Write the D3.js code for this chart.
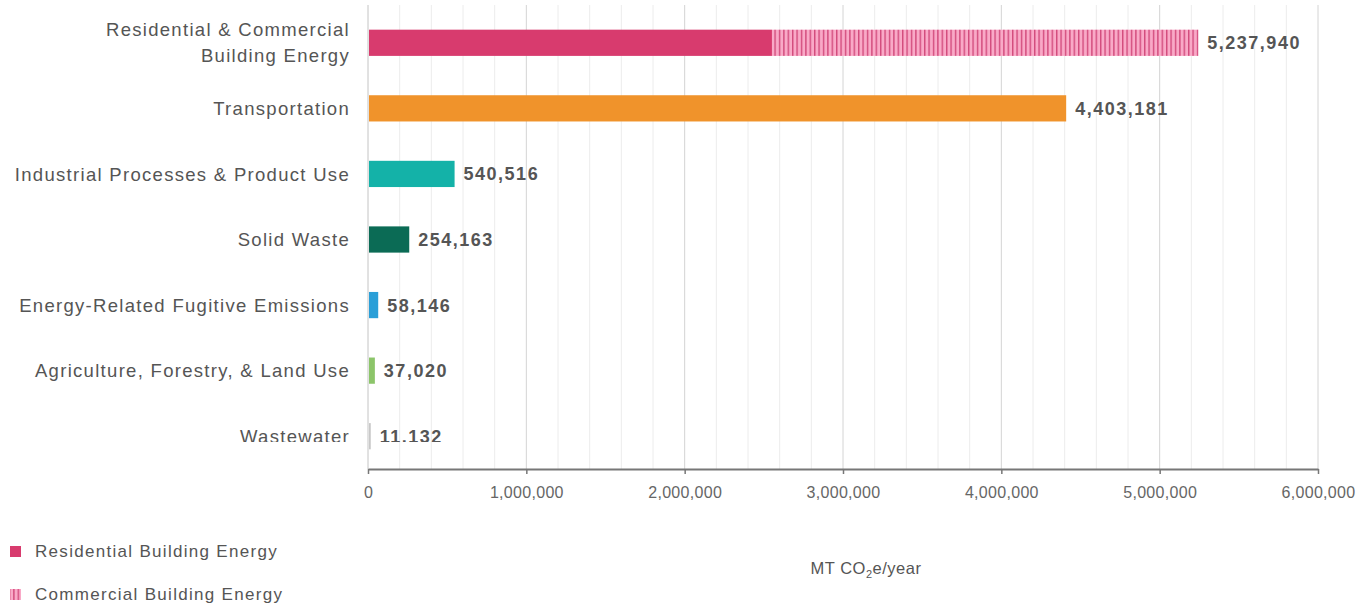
<!DOCTYPE html>
<html>
<head>
<meta charset="utf-8">
<script src="https://cdn.jsdelivr.net/npm/d3@7"></script>
<style>
  body { margin: 0; background: #fff; }
  svg { font-family: "Liberation Sans", Arial, sans-serif; }
</style>
</head>
<body>
<div id="chart"></div>
<script>
// sector totals, MT CO2e/year
const categories = [
  "Residential & Commercial Building Energy",
  "Transportation",
  "Industrial Processes & Product Use",
  "Solid Waste",
  "Energy-Related Fugitive Emissions",
  "Agriculture, Forestry, & Land Use",
  "Wastewater"
];
const totals = [5237940, 4403181, 540516, 254163, 58146, 37020, 11132];
const barColors = ["#d83b6e", "#f0932b", "#14b2a8", "#0b6b55", "#2a9fd8", "#8cc56a", "#c8c8c8"];

// split of the building energy bar
const residential = 2545000;
const commercial = totals[0] - residential;

const xTicks = [0, 1000000, 2000000, 3000000, 4000000, 5000000, 6000000];
const legendLabels = ["Residential Building Energy", "Commercial Building Energy"];

const width = 1367, height = 607;
const margin = { top: 5, right: 49, bottom: 138, left: 368 };

const svg = d3.select("#chart").append("svg")
  .attr("width", width)
  .attr("height", height);

const defs = svg.append("defs");
const stripes = defs.append("pattern")
  .attr("id", "stripes")
  .attr("patternUnits", "userSpaceOnUse")
  .attr("width", 4.4)
  .attr("height", 10);
stripes.append("rect").attr("width", 4.4).attr("height", 10).attr("fill", "#f9a9c7");
stripes.append("rect").attr("width", 1.4).attr("height", 10).attr("fill", "#d24a7c");

defs.append("clipPath").attr("id", "clipRows")
  .append("rect").attr("x", 0).attr("y", 0).attr("width", width).attr("height", 442);

const x = d3.scaleLinear()
  .domain([0, 6000000])
  .range([margin.left, width - margin.right]);

const y = d3.scaleBand()
  .domain(categories)
  .range([10, height - margin.bottom])
  .paddingInner(0.6)
  .paddingOuter(0.3);

const plotBottom = height - margin.bottom;

// minor gridlines every 200k
svg.append("g")
  .selectAll("line")
  .data(d3.range(200000, 6000000, 200000).filter(v => v % 1000000 !== 0))
  .join("line")
  .attr("x1", d => x(d)).attr("x2", d => x(d))
  .attr("y1", margin.top).attr("y2", plotBottom)
  .attr("stroke", "#ececec")
  .attr("stroke-width", 1);

// major gridlines
svg.append("g")
  .selectAll("line")
  .data(xTicks)
  .join("line")
  .attr("x1", d => x(d)).attr("x2", d => x(d))
  .attr("y1", margin.top).attr("y2", plotBottom)
  .attr("stroke", d => d === 0 ? "#c4c4c4" : "#d4d4d4")
  .attr("stroke-width", 1);

// bars
const bars = svg.append("g");
bars.selectAll("rect.bar")
  .data(categories.slice(1))
  .join("rect")
  .attr("class", "bar")
  .attr("x", x(0) + 1)
  .attr("y", d => y(d))
  .attr("width", (d, i) => Math.max(1.5, x(totals[i + 1]) - x(0)))
  .attr("height", y.bandwidth())
  .attr("fill", (d, i) => barColors[i + 1]);

bars.append("rect")
  .attr("x", x(0) + 1)
  .attr("y", y(categories[0]))
  .attr("width", x(residential) - x(0))
  .attr("height", y.bandwidth())
  .attr("fill", barColors[0]);

bars.append("rect")
  .attr("x", x(residential) + 1)
  .attr("y", y(categories[0]))
  .attr("width", x(residential + commercial) - x(residential))
  .attr("height", y.bandwidth())
  .attr("fill", "url(#stripes)");

// value labels
const fmt = d3.format(",");
svg.append("g")
  .attr("clip-path", "url(#clipRows)")
  .selectAll("text")
  .data(categories)
  .join("text")
  .attr("x", (d, i) => x(totals[i]) + 10)
  .attr("y", d => y(d) + y.bandwidth() / 2)
  .attr("dy", "0.36em")
  .attr("font-size", 18)
  .attr("font-weight", "bold")
  .attr("letter-spacing", 1.5)
  .attr("fill", "#555")
  .text((d, i) => fmt(totals[i]));

// category labels
const catLines = {
  "Residential & Commercial Building Energy": ["Residential & Commercial", "Building Energy"]
};
const catG = svg.append("g").attr("clip-path", "url(#clipRows)");
categories.forEach(c => {
  const lines = catLines[c] || [c];
  const cy = y(c) + y.bandwidth() / 2;
  const t = catG.append("text")
    .attr("x", margin.left - 18)
    .attr("text-anchor", "end")
    .attr("font-size", 18.5)
    .attr("letter-spacing", 1.3)
    .attr("fill", "#555");
  lines.forEach((l, i) => {
    t.append("tspan")
      .attr("x", margin.left - 18)
      .attr("y", cy + (i - (lines.length - 1) / 2) * 26)
      .attr("dy", "0.36em")
      .text(l);
  });
});

// x axis
const axis = svg.append("g")
  .attr("transform", `translate(0,${plotBottom})`)
  .call(d3.axisBottom(x).tickValues(xTicks).tickFormat(fmt).tickSize(5).tickSizeOuter(0));
axis.select(".domain").attr("stroke", "#777").attr("stroke-width", 2);
axis.selectAll(".tick line").attr("stroke", "#777").attr("stroke-width", 1.5);
axis.selectAll(".tick text")
  .attr("font-size", 16)
  .attr("letter-spacing", 0.3)
  .attr("fill", "#666")
  .attr("dy", "1.3em")
  .attr("font-family", "Liberation Sans, Arial, sans-serif");

// axis title
const title = svg.append("text")
  .attr("x", 866)
  .attr("y", 574)
  .attr("text-anchor", "middle")
  .attr("font-size", 16.5)
  .attr("fill", "#555")
  .attr("letter-spacing", 0.5);
title.append("tspan").text("MT CO");
title.append("tspan").attr("font-size", 11).attr("dy", 4).text("2");
title.append("tspan").attr("dy", -4).text("e/year");

// legend
const legend = svg.append("g");
legendLabels.forEach((l, i) => {
  const ly = 551 + i * 43;
  legend.append("rect")
    .attr("x", 10).attr("y", ly - 5)
    .attr("width", 11).attr("height", 11)
    .attr("fill", i === 0 ? barColors[0] : "url(#stripes)");
  legend.append("text")
    .attr("x", 35).attr("y", ly)
    .attr("dy", "0.36em")
    .attr("font-size", 17)
    .attr("letter-spacing", 1.3)
    .attr("fill", "#555")
    .text(l);
});
</script>
</body>
</html>
